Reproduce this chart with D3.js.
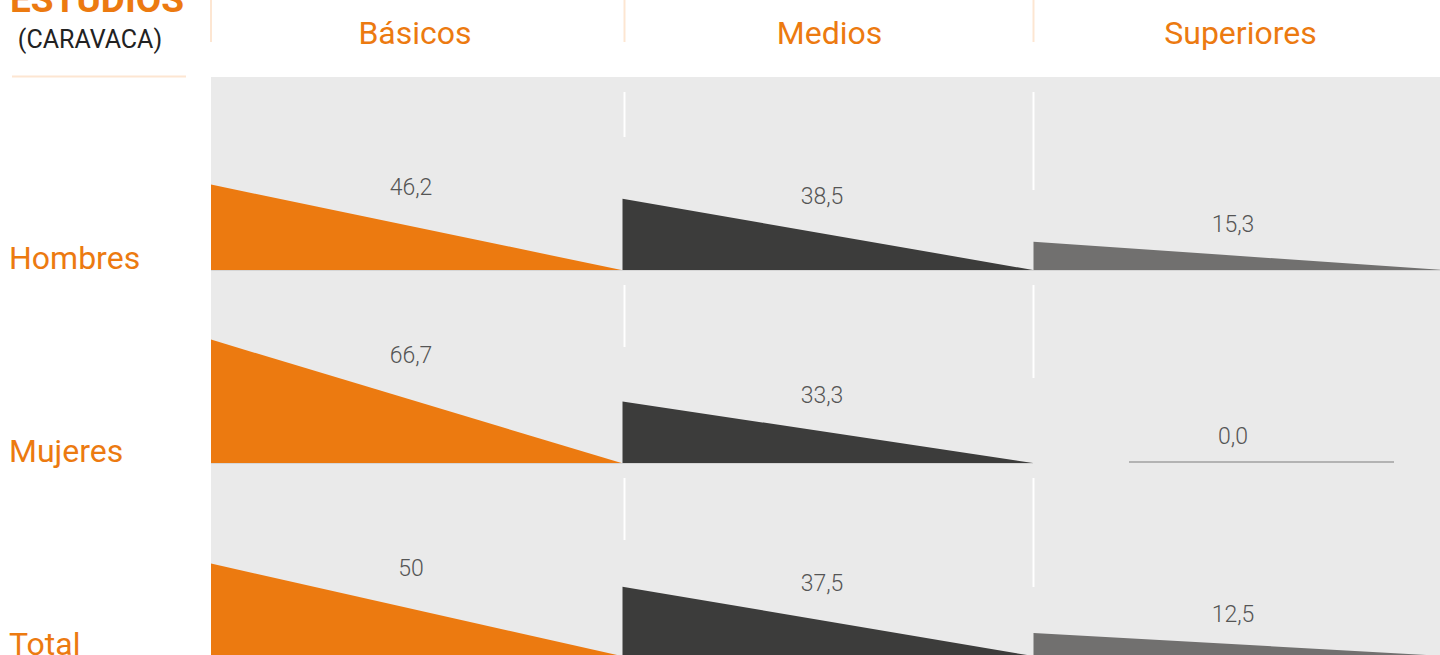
<!DOCTYPE html>
<html>
<head>
<meta charset="utf-8">
<script src="https://cdn.jsdelivr.net/npm/d3@7"></script>
<style>
  html, body { margin: 0; padding: 0; background: #fff; overflow: hidden; }
  svg { display: block; }
  text { font-family: Roboto, "Noto Sans", sans-serif; }
</style>
</head>
<body>
<svg id="chart" width="1440" height="655"></svg>
<script>
const title = "ESTUDIOS";
const subtitle = "(CARAVACA)";
const categories = ["Básicos", "Medios", "Superiores"];
const groups = ["Hombres", "Mujeres", "Total"];
const basicos = [46.2, 66.7, 50];
const medios = [38.5, 33.3, 37.5];
const superiores = [15.3, 0.0, 12.5];
const valueLabels = [["46,2", "66,7", "50"], ["38,5", "33,3", "37,5"], ["15,3", "0,0", "12,5"]];
const colors = ["#ec7a10", "#3c3c3b", "#71706f"];

const series = [basicos, medios, superiores];

const svg = d3.select("#chart");
const orange = "#ec7a10";

// scales
const x = d3.scaleBand().domain(categories).range([211, 1444]).paddingInner(0).paddingOuter(0);
const y = d3.scaleBand().domain(groups).range([77, 656]).paddingInner(0).paddingOuter(0);
const h = d3.scaleLinear().domain([0, 100]).range([0, 185]);

// styling: separator x offsets and lengths (per row, per column 1..2)
const sepDx = [0, 2.5, 0.5];
const sepLen = [[0, 45, 98], [0, 62, 93], [0, 62, 109]];

// grey background
svg.append("rect").attr("x", 211).attr("y", 77).attr("width", 1440 - 211).attr("height", 655 - 77).attr("fill", "#eaeaea");

// header
svg.append("text").attr("x", 97).attr("y", 12).attr("text-anchor", "middle")
  .attr("font-size", 37).attr("font-weight", 700).attr("fill", orange).text(title);
svg.append("text").attr("x", 90).attr("y", 48).attr("text-anchor", "middle")
  .attr("font-size", 25).attr("fill", "#222").text(subtitle);
svg.append("line").attr("x1", 12).attr("x2", 186).attr("y1", 76.5).attr("y2", 76.5)
  .attr("stroke", "#fde6d2").attr("stroke-width", 2);

categories.forEach((c, i) => {
  svg.append("line").attr("x1", x(c) + sepDx[i]).attr("x2", x(c) + sepDx[i])
    .attr("y1", 0).attr("y2", 42).attr("stroke", "#fde6d2").attr("stroke-width", 2);
  svg.append("text").attr("x", x(c) + x.bandwidth() / 2 + (i === 0 ? -1.5 : 2)).attr("y", 44).attr("text-anchor", "middle")
    .attr("font-size", 32).attr("fill", orange).text(c);
});

// row labels
groups.forEach(g => {
  svg.append("text").attr("x", 9).attr("y", y(g) + y.bandwidth() - 1)
    .attr("font-size", 32).attr("fill", orange).text(g);
});

// cells
categories.forEach((c, ci) => {
  groups.forEach((g, gi) => {
    const v = series[ci][gi];
    const x0 = x(c) + (ci === 0 ? 0 : 0.5);
    const w = x.bandwidth() - 0.5;
    const base = y(g) + y.bandwidth();
    const top = base - h(v);

    // white separator line
    if (ci > 0) {
      svg.append("line").attr("x1", x(c) + sepDx[ci]).attr("x2", x(c) + sepDx[ci])
        .attr("y1", y(g) + 15).attr("y2", y(g) + 15 + sepLen[gi][ci])
        .attr("stroke", "#ffffff").attr("stroke-width", 2);
    }

    if (v > 0) {
      // baseline
      svg.append("line").attr("x1", x(c)).attr("x2", x(c) + x.bandwidth()).attr("y1", base + 0.5).attr("y2", base + 0.5)
        .attr("stroke", "#d6d6d6").attr("stroke-width", 1);
      svg.append("path")
        .attr("d", d3.line()([[x0, base], [x0, top], [x0 + w, base]]) + "Z")
        .attr("fill", colors[ci]);
    } else {
      svg.append("line").attr("x1", x(c) + 96).attr("x2", x(c) + 361)
        .attr("y1", base - 1).attr("y2", base - 1)
        .attr("stroke", "#b3b3b3").attr("stroke-width", 2);
    }

    svg.append("text").attr("x", x(c) + 200).attr("y", base - (h(v) * 0.66 + 19))
      .attr("text-anchor", "middle").attr("font-size", 23).attr("font-weight", 300)
      .attr("fill", "#555").text(valueLabels[ci][gi]);
  });
});
</script>
</body>
</html>
